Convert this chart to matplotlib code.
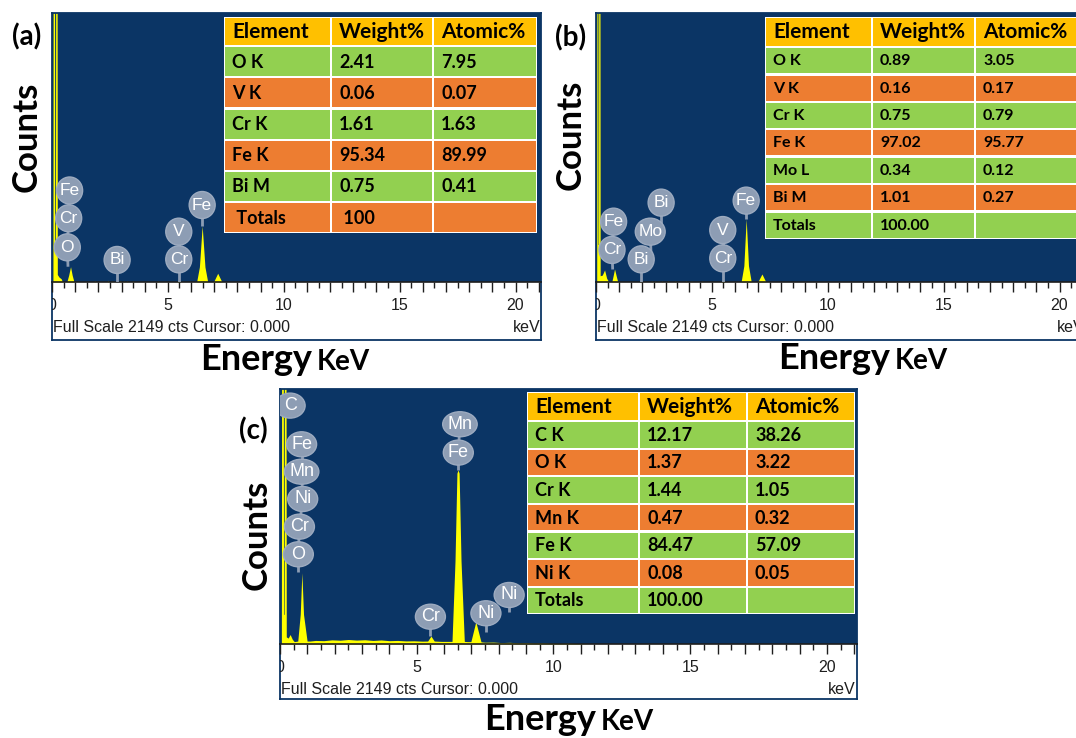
import matplotlib
matplotlib.use("Agg")
import matplotlib.pyplot as plt
from matplotlib.patches import Ellipse, Rectangle
from matplotlib.ticker import MultipleLocator

W, H = 1076, 738
FULL_SCALE = 2149
E_MAX = 21.1

BLUE = "#0b3565"
YELLOW = "#ffff00"
BUBBLE = "#8d9db4"
GOLD, GREEN, ORANGE = "#ffc000", "#92d050", "#ed7d31"
INK = "#1e1e1e"
TITLE_FONT = "Lato"
SCALE_FONT = "Liberation Sans"

TICK_VALUES = [0, 5, 10, 15, 20]
TABLE_HEADER = ["Element", "Weight%", "Atomic%"]
SCALE_NOTE = "Full Scale 2149 cts Cursor: 0.000"

# ---------------- sample (a) ----------------
energy_a = [0.00, 0.04, 0.05, 0.11, 0.12, 0.15, 0.16, 0.22, 0.23, 0.30, 0.40, 0.45,
            0.64, 0.72, 0.80, 0.87, 0.95,
            1.82, 1.84, 1.86, 2.40, 2.42, 2.44, 2.55, 2.57, 2.59, 2.93, 2.95, 2.97,
            3.08, 3.10, 3.12, 3.23, 3.25, 3.27, 3.48, 3.50, 3.52, 4.55, 4.57, 4.59,
            5.40, 5.47, 5.54,
            6.24, 6.36, 6.48, 6.60, 6.72,
            6.97, 7.15, 7.33, 21.1]
counts_a = [0, 0, 2600, 2600, 300, 300, 2600, 2600, 60, 40, 25, 0,
            0, 55, 122, 55, 0,
            0, 12, 0, 0, 14, 0, 0, 12, 0, 0, 14, 0,
            0, 10, 0, 0, 12, 0, 0, 10, 0, 0, 10, 0,
            0, 20, 0,
            0, 120, 448, 120, 0,
            0, 70, 0, 0]
label_names_a = ["O", "Cr", "Fe", "Bi", "Cr", "V", "Fe"]
label_energy_a = [0.66, 0.72, 0.76, 2.81, 5.47, 5.47, 6.48]
label_counts_a = [277, 509, 731, 176, 181, 402, 615]
stem_energy_a = [0.69, 0.66, 0.72, 2.81, 5.47, 5.47, 6.48]
stem_counts_a = [122, 277, 509, 0, 0, 181, 448]
elements_a = ["O K", "V K", "Cr K", "Fe K", "Bi M", " Totals"]
weight_a = ["2.41", "0.06", "1.61", "95.34", "0.75", " 100"]
atomic_a = ["7.95", "0.07", "1.63", "89.99", "0.41", ""]

# ---------------- sample (b) ----------------
energy_b = [0.00, 0.03, 0.04, 0.08, 0.09, 0.11, 0.12, 0.17, 0.18, 0.27, 0.37, 0.46, 0.55,
            0.68, 0.74, 0.80, 0.87, 0.94,
            1.93, 1.95, 1.97, 2.38, 2.40, 2.42, 2.52, 2.54, 2.56, 2.68, 2.70, 2.72,
            2.82, 2.84, 2.86, 3.10, 3.12, 3.14, 3.40, 3.42, 3.44, 3.85, 3.87, 3.89,
            4.10, 4.12, 4.14, 4.57, 4.59, 4.61,
            5.41, 5.48, 5.55,
            6.26, 6.38, 6.48, 6.58, 6.70,
            6.98, 7.16, 7.33, 21.1]
counts_b = [0, 0, 2600, 2600, 300, 300, 2600, 2600, 50, 55, 96, 30, 0,
            0, 50, 104, 50, 0,
            0, 12, 0, 0, 12, 0, 0, 10, 0, 0, 12, 0,
            0, 10, 0, 0, 12, 0, 0, 10, 0, 0, 12, 0,
            0, 10, 0, 0, 10, 0,
            0, 18, 0,
            0, 130, 504, 130, 0,
            0, 64, 0, 0]
label_names_b = ["Cr", "Fe", "Bi", "Mo", "Bi", "Cr", "V", "Fe"]
label_energy_b = [0.69, 0.76, 1.95, 2.34, 2.81, 5.47, 5.47, 6.48]
label_counts_b = [256, 482, 181, 402, 634, 189, 415, 650]
stem_energy_b = [0.72, 0.69, 1.95, 2.38, 2.81, 5.47, 5.47, 6.48]
stem_counts_b = [100, 256, 0, 200, 420, 0, 189, 504]
elements_b = ["O K", "V K", "Cr K", "Fe K", "Mo L", "Bi M", "Totals"]
weight_b = ["0.89", "0.16", "0.75", "97.02", "0.34", "1.01", "100.00"]
atomic_b = ["3.05", "0.17", "0.79", "95.77", "0.12", "0.27", ""]

# ---------------- sample (c) ----------------
energy_c = [0.00, 0.05, 0.06, 0.12, 0.13, 0.15, 0.16, 0.22, 0.23, 0.30, 0.37, 0.45, 0.52,
            0.65, 0.74, 0.80, 0.86, 0.99,
            1.10, 1.30, 1.60, 1.90, 2.20, 2.50, 2.80, 3.10, 3.40, 3.70, 4.00, 4.30,
            4.60, 4.90, 5.20,
            5.40, 5.52, 5.64, 5.90, 6.20,
            6.29, 6.40, 6.47, 6.51, 6.55, 6.62, 6.74,
            6.85, 6.98, 7.16, 7.35,
            7.50, 7.80, 8.10, 8.40, 8.70, 9.00, 9.30, 9.60, 9.90, 10.20, 10.60,
            11.00, 11.30, 21.1]
counts_c = [0, 0, 2600, 2600, 250, 250, 2600, 2600, 60, 50, 80, 40, 20,
            25, 250, 600, 250, 25,
            25, 30, 28, 35, 32, 38, 33, 36, 30, 34, 28, 30,
            26, 27, 24,
            25, 67, 25, 22, 22,
            22, 700, 1440, 1467, 1440, 700, 22,
            20, 20, 188, 18,
            15, 16, 12, 14, 10, 11, 8, 9, 6, 5, 6,
            3, 0, 0]
label_names_c = ["C", "O", "Cr", "Ni", "Mn", "Fe", "Cr", "Fe", "Mn", "Ni", "Ni"]
label_energy_c = [0.37, 0.67, 0.71, 0.83, 0.79, 0.79, 5.50, 6.52, 6.58, 7.53, 8.38]
label_counts_c = [2009, 756, 989, 1222, 1452, 1683, 230, 1613, 1852, 259, 413]
stem_energy_c = [0.37, 0.67, 0.67, 0.71, 0.83, 0.79, 5.50, 6.52, 6.52, 7.53, 8.38]
stem_counts_c = [1913, 604, 756, 989, 1222, 1452, 67, 1467, 1613, 104, 272]
elements_c = ["C K", "O K", "Cr K", "Mn K", "Fe K", "Ni K", "Totals"]
weight_c = ["12.17", "1.37", "1.44", "0.47", "84.47", "0.08", "100.00"]
atomic_c = ["38.26", "3.22", "1.05", "0.32", "57.09", "0.05", ""]

fig = plt.figure(figsize=(W / 100, H / 100), dpi=100)
fig.patch.set_facecolor("white")


def px_axes(x0, y0, x1, y1, z=0):
    ax = fig.add_axes([x0 / W, 1 - y1 / H, (x1 - x0) / W, (y1 - y0) / H])
    ax.set_zorder(z)
    return ax


def draw_panel(x0, x1, y_top, y_base, y_bottom, energy, counts,
               names, l_e, l_c, s_e, s_c, bubble_w, bubble_h, label_size, scale_size):
    # white scale strip with the tick numbers and status line
    ax_s = px_axes(x0, y_base, x1, y_bottom, z=1)
    ax_s.set_xlim(0, E_MAX)
    ax_s.set_ylim(y_bottom - y_base, 0)
    ax_s.set_xticks([])
    ax_s.set_yticks([])
    for side in ("left", "right", "bottom"):
        ax_s.spines[side].set_color(BLUE)
        ax_s.spines[side].set_linewidth(1.3)
    ax_s.spines["top"].set_visible(False)
    for v in TICK_VALUES:
        ax_s.text(v, 23, str(v), ha="center", va="center", fontsize=scale_size,
                  family=SCALE_FONT, color=INK, clip_on=True)
    ax_s.text(0.03, 45, SCALE_NOTE, ha="left", va="center", fontsize=scale_size,
              family=SCALE_FONT, color=INK, clip_on=True)
    ax_s.text(E_MAX - 0.04, 45, "keV", ha="right", va="center", fontsize=scale_size,
              family=SCALE_FONT, color=INK, clip_on=True)

    # spectrum window
    ax = px_axes(x0, y_top, x1, y_base, z=2)
    ax.set_facecolor(BLUE)
    ax.fill_between(energy, counts, color=YELLOW, lw=0, zorder=2)
    ax.set_xlim(0, E_MAX)
    ax.set_ylim(0, FULL_SCALE)
    ax.set_yticks([])
    ax.xaxis.set_major_locator(MultipleLocator(1))
    ax.xaxis.set_minor_locator(MultipleLocator(0.5))
    ax.tick_params(axis="x", which="major", direction="out", length=7, width=1,
                   color=INK, labelbottom=False)
    ax.tick_params(axis="x", which="minor", direction="out", length=4, width=1, color=INK)
    for side in ("top", "left", "right"):
        ax.spines[side].set_color(BLUE)
        ax.spines[side].set_linewidth(1.3)
    ax.spines["bottom"].set_color(INK)
    ax.spines["bottom"].set_linewidth(1.2)

    # element markers
    kev_per_px = E_MAX / (x1 - x0)
    cts_per_px = FULL_SCALE / (y_base - y_top)
    for name, e, c, se, sc in zip(names, l_e, l_c, s_e, s_c):
        ax.plot([e, se], [c, sc], color=BUBBLE, lw=2, zorder=3, solid_capstyle="butt")
        wpx = bubble_w * (1.15 if name.startswith("M") else 1.0)
        ax.add_patch(Ellipse((e, c), wpx * kev_per_px, bubble_h * cts_per_px,
                             facecolor=BUBBLE, edgecolor="#9dabc0", lw=1.0, zorder=4))
        ax.text(e, c, name, ha="center", va="center", color="white",
                fontsize=label_size, family=SCALE_FONT, zorder=5)
    return ax


def draw_table(x0, y0, col_w, header_h, row_h, elements, weight, atomic,
               head_size, row_size):
    n = len(elements)
    total_w = sum(col_w)
    total_h = header_h + n * row_h
    ax = px_axes(x0, y0, x0 + total_w, y0 + total_h, z=6)
    ax.set_xlim(0, total_w)
    ax.set_ylim(total_h, 0)
    ax.axis("off")
    ax.add_patch(Rectangle((0, 0), total_w, total_h, facecolor="white", lw=0))
    gap = 2.2
    lefts = [sum(col_w[:i]) for i in range(3)]
    rows = [TABLE_HEADER] + [list(r) for r in zip(elements, weight, atomic)]
    for r, row in enumerate(rows):
        top = 0 if r == 0 else header_h + (r - 1) * row_h
        h = header_h if r == 0 else row_h
        color = GOLD if r == 0 else (GREEN if r % 2 == 1 else ORANGE)
        for c, txt in enumerate(row):
            ax.add_patch(Rectangle((lefts[c] + gap / 2, top + gap / 2), col_w[c] - gap,
                                   h - gap, facecolor=color, lw=0))
            ax.text(lefts[c] + 8, top + h / 2 + 0.5, txt, ha="left", va="center",
                    fontsize=head_size if r == 0 else row_size, fontweight="bold",
                    family=TITLE_FONT, color="black")


def titles(tag_xy, counts_xy, energy_split, energy_base):
    fig.text(tag_xy[0] / W, 1 - tag_xy[1] / H, tag_xy[2], ha="center", va="center",
             fontsize=20, fontweight="bold", family=TITLE_FONT)
    fig.text(counts_xy[0] / W, 1 - counts_xy[1] / H, "Counts", rotation=90,
             ha="center", va="center", fontsize=25, fontweight="bold", family=TITLE_FONT)
    fig.text(energy_split / W, 1 - energy_base / H, "Energy", ha="right", va="baseline",
             fontsize=26, fontweight="bold", family=TITLE_FONT)
    fig.text((energy_split + 5) / W, 1 - energy_base / H, "KeV", ha="left", va="baseline",
             fontsize=20, fontweight="bold", family=TITLE_FONT)


# (a)
draw_panel(52, 541, 13, 282, 340, energy_a, counts_a, label_names_a, label_energy_a,
           label_counts_a, stem_energy_a, stem_counts_a, 26, 27, 12.5, 11.5)
draw_table(224, 17, [107, 102, 104], 29, 31.2, elements_a, weight_a, atomic_a, 15, 13)
titles((27, 37, "(a)"), (27, 137), 312, 370)

# (b)
draw_panel(596, 1085, 13, 282, 340, energy_b, counts_b, label_names_b, label_energy_b,
           label_counts_b, stem_energy_b, stem_counts_b, 26, 27, 12.5, 11.5)
draw_table(765, 17, [107, 103, 110], 30, 27.4, elements_b, weight_b, atomic_b, 15, 11.5)
titles((571, 38, "(b)"), (571, 135), 890, 369)

# (c)
draw_panel(280, 857, 389, 644, 699, energy_c, counts_c, label_names_c, label_energy_c,
           label_counts_c, stem_energy_c, stem_counts_c, 30, 25, 13, 11.5)
draw_table(527, 392, [112, 108, 108], 29, 27.6, elements_c, weight_c, atomic_c, 15, 13)
titles((253, 431, "(c)"), (257, 535), 596, 730)

fig.savefig("out.png", dpi=100, facecolor="white")
